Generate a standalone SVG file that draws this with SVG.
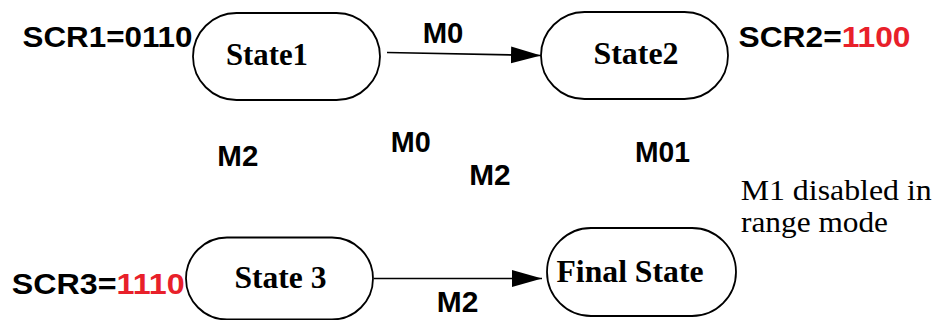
<svg xmlns="http://www.w3.org/2000/svg" width="940" height="320" viewBox="0 0 940 320">
<style>
.node{fill:#fff;stroke:#000;stroke-width:1.8}
.st{font-family:"Liberation Serif","Times New Roman",serif;font-weight:bold;font-size:31.5px;fill:#000}
.lbl{font-family:"Liberation Sans",Arial,sans-serif;font-weight:bold;font-size:29px;fill:#000}
.red{fill:#e8202a}
.note{font-family:"Liberation Serif","Times New Roman",serif;font-size:30px;fill:#000}
.edge{fill:none;stroke:#000;stroke-width:1.6}
</style>
<defs>
<marker id="arr" markerUnits="userSpaceOnUse" markerWidth="31" markerHeight="18" refX="30" refY="8.5" orient="auto">
<path d="M0,0 L30,8.5 L0,17 z" fill="#000"/>
</marker>
</defs>
<g id="connectors">
<line class="edge" x1="387" y1="52.5" x2="541" y2="55.5" marker-end="url(#arr)"/>
<line class="edge" x1="374" y1="278.5" x2="542" y2="278.5" marker-end="url(#arr)"/>
</g>
<g id="state1">
<rect class="node" x="193" y="13" width="187" height="87" rx="43.5" ry="43.5"/>
<text class="st" x="226" y="65" textLength="82" lengthAdjust="spacingAndGlyphs">State1</text>
</g>
<g id="state2">
<rect class="node" x="541" y="12" width="187" height="87" rx="43.5" ry="43.5"/>
<text class="st" x="593.5" y="64" textLength="85" lengthAdjust="spacingAndGlyphs">State2</text>
</g>
<g id="state3">
<rect class="node" x="186" y="237.5" width="187" height="82" rx="41" ry="41"/>
<text class="st" x="234.5" y="287.7" textLength="92" lengthAdjust="spacingAndGlyphs">State 3</text>
</g>
<g id="final-state">
<rect class="node" x="547" y="228" width="189" height="88" rx="44" ry="44"/>
<text class="st" x="556.5" y="281.7" textLength="147" lengthAdjust="spacingAndGlyphs">Final State</text>
</g>
<g id="labels">
<text class="lbl" x="22.5" y="46.5" textLength="170" lengthAdjust="spacingAndGlyphs">SCR1=0110</text>
<text class="lbl" x="738.5" y="46.7" textLength="172" lengthAdjust="spacingAndGlyphs">SCR2=<tspan class="red">1100</tspan></text>
<text class="lbl" x="11.7" y="294" textLength="173" lengthAdjust="spacingAndGlyphs">SCR3=<tspan class="red">1110</tspan></text>
<text class="lbl" x="422.7" y="43.3" textLength="40.7" lengthAdjust="spacingAndGlyphs">M0</text>
<text class="lbl" x="217.3" y="165.7" textLength="41" lengthAdjust="spacingAndGlyphs">M2</text>
<text class="lbl" x="390.7" y="152.3" textLength="40" lengthAdjust="spacingAndGlyphs">M0</text>
<text class="lbl" x="469.3" y="185" textLength="41.4" lengthAdjust="spacingAndGlyphs">M2</text>
<text class="lbl" x="635" y="161.7" textLength="55" lengthAdjust="spacingAndGlyphs">M01</text>
<text class="lbl" x="436.7" y="312.3" textLength="41.6" lengthAdjust="spacingAndGlyphs">M2</text>
<text class="note" x="740.7" y="200" textLength="191" lengthAdjust="spacingAndGlyphs">M1 disabled in</text>
<text class="note" x="741" y="231.7" textLength="147" lengthAdjust="spacingAndGlyphs">range mode</text>
</g>
</svg>
